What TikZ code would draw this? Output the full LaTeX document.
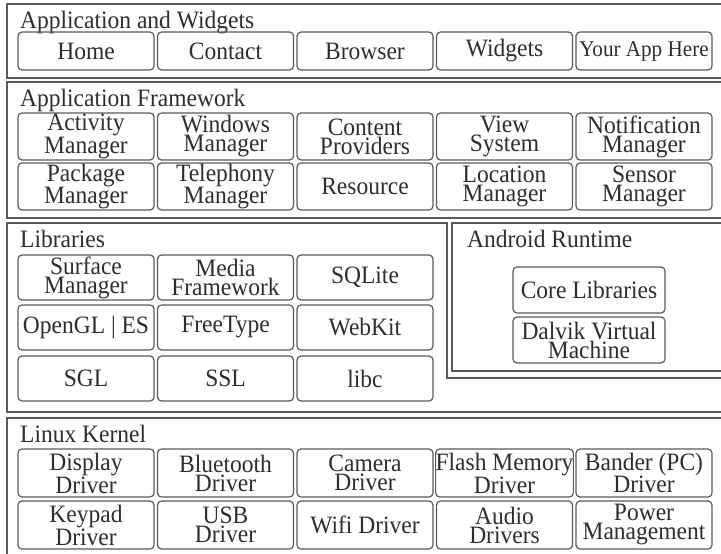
\documentclass[tikz,border=0pt]{standalone}
\usepackage{fontspec}
\setmainfont[FakeStretch=0.94]{Liberation Serif}
\definecolor{linegray}{HTML}{5A5A5A}
\definecolor{textgray}{HTML}{2E2E2E}
\tikzset{
  layer/.style={draw=linegray, line width=1.4pt},
  title/.style={anchor=base west, inner sep=0pt, text=textgray, font=\fontsize{25}{19}\selectfont},
  mod/.style={draw=linegray, line width=1.2pt, rounded corners=4pt, minimum width=136pt,
    inner sep=0pt, align=center, text=textgray, font=\fontsize{25}{19}\selectfont},
}
\begin{document}
\begin{tikzpicture}[x=1pt,y=-1pt]
\useasboundingbox (0,0) rectangle (721,554);
% ---------- Layer 1 ----------
\draw[layer] (726,4) -- (7,4) -- (7,78) -- (726,78);
\node[title] (t1) at (20,28) {Application and Widgets};
\foreach \n/\t [count=\i from 0] in {home/Home,contact/Contact,browser/Browser,widgets/Widgets}
  \node[mod, minimum height=38pt] (\n) at (86+139.5*\i,51) {\t};
\node[mod, minimum height=38pt, font=\fontsize{22.5}{19}\selectfont] (yourapp) at (644,51) {Your App Here};
% ---------- Layer 2 ----------
\draw[layer] (726,82) -- (7,82) -- (7,218) -- (726,218);
\node[title] (t2) at (20,106) {Application Framework};
\foreach \n/\t [count=\i from 0] in {am/{Activity\\Manager},wm/{Windows\\Manager},cp/{Content\\Providers},vs/{View\\System},nm/{Notification\\Manager}}
  \node[mod, minimum height=47pt] (\n) at (86+139.5*\i,136.5) {\t};
\foreach \n/\t [count=\i from 0] in {pm/{Package\\Manager},tm/{Telephony\\Manager},res/Resource,lm/{Location\\Manager},sm/{Sensor\\Manager}}
  \node[mod, minimum height=47pt] (\n) at (86+139.5*\i,186.5) {\t};
% ---------- Libraries ----------
\draw[layer] (726,378) -- (447,378) -- (447,223) -- (7,223) -- (7,412) -- (726,412);
\node[title] (t3) at (20,247) {Libraries};
\foreach \n/\t [count=\i from 0] in {surf/{Surface\\Manager},media/{Media\\Framework},sqlite/SQLite}
  \node[mod, minimum height=45pt] (\n) at (86+139.5*\i,277.5) {\t};
\foreach \n/\t [count=\i from 0] in {opengl/{OpenGL | ES},freetype/FreeType,webkit/WebKit}
  \node[mod, minimum height=45pt] (\n) at (86+139.5*\i,327.5) {\t};
\foreach \n/\t [count=\i from 0] in {sgl/SGL,ssl/SSL,libc/libc}
  \node[mod, minimum height=45pt] (\n) at (86+139.5*\i,378.5) {\t};
% ---------- Android Runtime ----------
\draw[layer] (726,223) -- (452,223) -- (452,371) -- (726,371);
\node[title] (t4) at (467,247) {Android Runtime};
\node[mod, minimum width=152pt, minimum height=46pt] (core) at (589,290) {Core Libraries};
\node[mod, minimum width=152pt, minimum height=46pt] (dalvik) at (589,340) {Dalvik Virtual\\Machine};
% ---------- Linux Kernel ----------
\draw[layer] (726,418) -- (7,418) -- (7,560);
\node[title] (t5) at (20,442) {Linux Kernel};
\foreach \n/\t [count=\i from 0] in {disp/{Display\\Driver},bt/{Bluetooth\\Driver},cam/{Camera\\Driver},flash/{Flash Memory\\Driver},bander/{Bander (PC)\\Driver}}
  \node[mod, minimum height=48pt] (\n) at (86+139.5*\i,473) {\t};
\foreach \n/\t [count=\i from 0] in {key/{Keypad\\Driver},usb/{USB\\Driver},wifi/{Wifi Driver},audio/{Audio\\Drivers},power/{Power\\Management}}
  \node[mod, minimum height=48pt] (\n) at (86+139.5*\i,525) {\t};
\end{tikzpicture}
\end{document}
